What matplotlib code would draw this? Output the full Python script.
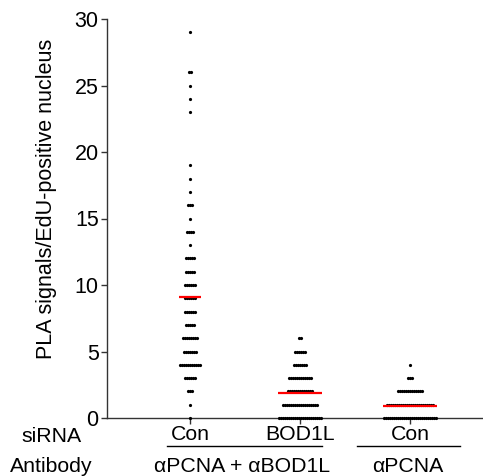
import numpy as np
import matplotlib
matplotlib.use('Agg')
import matplotlib.pyplot as plt

plt.rcParams['font.family'] = ['Liberation Sans', 'DejaVu Sans']

# значения (число сигналов) и сколько ядер с таким значением, по группам
groups = ['Con', 'BOD1L', 'Con']
antibodies = ['αPCNA + αBOD1L', 'αPCNA']

con_vals = [29, 26, 25, 24, 23, 19, 18, 17, 16, 15, 14, 13, 12, 11, 10, 9, 8, 7, 6, 5, 4, 3, 2, 1, 0]
con_cnts = [1, 2, 1, 1, 1, 1, 1, 1, 3, 1, 4, 1, 5, 5, 6, 6, 6, 5, 8, 7, 11, 6, 3, 1, 1]

bod_vals = [6, 5, 4, 3, 2, 1, 0]
bod_cnts = [2, 6, 7, 12, 13, 18, 22]

pcna_vals = [4, 3, 2, 1, 0]
pcna_cnts = [1, 3, 13, 24, 27]

data = [(con_vals, con_cnts), (bod_vals, bod_cnts), (pcna_vals, pcna_cnts)]

fig = plt.figure(figsize=(4.83, 4.76), dpi=100)
ax = fig.add_axes([107 / 483, 58 / 476, 376 / 483, 399 / 476])

step = 0.0182  # шаг между точками в строке
for i, (vals, cnts) in enumerate(data):
    xs, ys = [], []
    for v, c in zip(vals, cnts):
        off = (np.arange(c) - (c - 1) / 2) * step
        xs.extend(i + off)
        ys.extend([v] * c)
    ax.plot(xs, ys, 'o', color='black', markersize=2.3, markeredgewidth=0, clip_on=False, zorder=3)
    mean = np.average(vals, weights=cnts)
    half = (max(cnts) - 1) / 2 * step + 0.012
    ax.plot([i - half, i + half], [mean, mean], color='red', lw=1.6, zorder=4, solid_capstyle='butt')

ax.set_xlim(-0.7545, 2.664)
ax.set_ylim(0, 30)
ax.set_yticks(range(0, 31, 5))
ax.set_xticks([0, 1, 2])
ax.set_xticklabels(groups)
ax.spines['top'].set_visible(False)
ax.spines['right'].set_visible(False)
for s in ['left', 'bottom']:
    ax.spines[s].set_linewidth(1.0)
    ax.spines[s].set_color('#333333')
ax.tick_params(axis='y', labelsize=15.5, length=4, width=1, color='#333333', pad=2)
ax.tick_params(axis='x', labelsize=15.3, length=4, width=1, color='#333333', pad=1)
ax.set_ylabel('PLA signals/EdU-positive nucleus', fontsize=15.5)
ax.yaxis.set_label_coords(-0.133, 0.549)

fs = 15.3
fig.text(51 / 483, 1 - 436 / 476, 'siRNA', fontsize=fs, va='center', ha='center')
fig.text(51 / 483, 1 - 466 / 476, 'Antibody', fontsize=fs, va='center', ha='center')
fig.text(242 / 483, 1 - 466 / 476, antibodies[0], fontsize=fs, va='center', ha='center')
fig.text(408 / 483, 1 - 466 / 476, antibodies[1], fontsize=fs, va='center', ha='center')
fig.add_artist(plt.Line2D([167 / 483, 322 / 483], [1 - 446 / 476] * 2, color='black', lw=1))
fig.add_artist(plt.Line2D([357 / 483, 460 / 483], [1 - 446 / 476] * 2, color='black', lw=1))

fig.savefig('out.png', dpi=100)
